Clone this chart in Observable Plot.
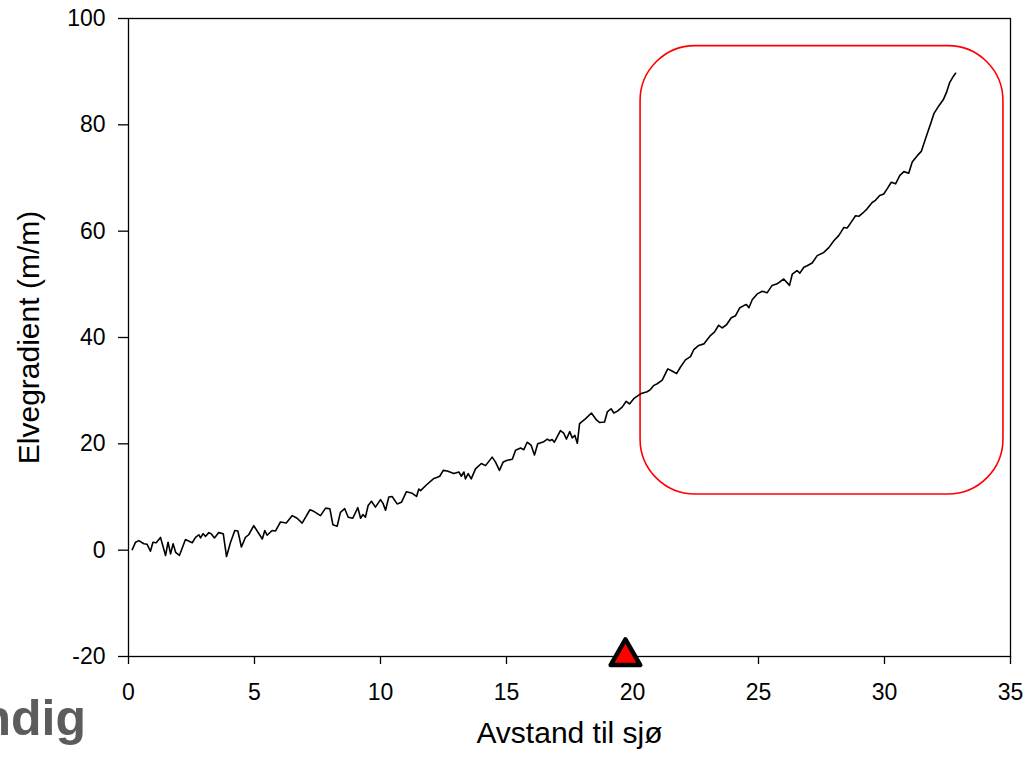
<!DOCTYPE html>
<html>
<head>
<meta charset="utf-8">
<script src="https://cdn.jsdelivr.net/npm/d3@7"></script>
<script src="https://cdn.jsdelivr.net/npm/@observablehq/plot@0.6"></script>
<style>
  body { margin: 0; background: white; }
  #chart { width: 1029px; height: 759px; overflow: hidden; }
</style>
</head>
<body>
<div id="chart"></div>
<script>
// Distance to sea (x) and river gradient (y)
const distance = [0.15,0.28,0.41,0.61,0.74,0.87,0.97,1.1,1.27,1.47,1.57,1.67,1.77,1.87,2.02,2.26,2.53,2.66,2.79,2.86,2.96,3.06,3.19,3.28,3.41,3.58,3.76,3.89,4.05,4.22,4.34,4.48,4.64,4.77,4.97,5.31,5.41,5.5,5.7,5.83,6.03,6.26,6.5,6.69,6.89,7.2,7.35,7.62,
7.82,7.99,8.11,8.28,8.41,8.58,8.72,8.9,9.1,9.21,9.3,9.4,9.51,9.64,9.8,10.0,10.1,10.2,10.33,10.46,10.66,10.83,11.03,11.26,11.43,11.52,11.59,11.83,12.12,12.25,12.35,12.49,12.65,12.91,13.11,13.21,13.31,13.37,13.48,13.6,13.77,
14.0,14.17,14.43,14.56,14.72,14.87,15.03,15.23,15.36,15.56,15.69,15.82,15.98,16.11,16.24,16.48,16.62,16.71,16.81,16.9,17.14,17.27,17.38,17.51,17.61,17.71,17.81,17.9,18.13,18.37,18.57,18.7,18.89,19.0,19.15,19.26,19.39,19.59,19.75,19.88,20.05,20.32,20.58,20.71,20.85,20.98,21.18,21.4,21.57,21.75,21.9,
22.1,22.3,22.43,22.63,22.83,23.1,23.25,23.42,23.56,23.73,23.92,24.09,24.26,24.42,24.52,24.62,24.75,24.95,25.15,25.34,25.54,25.74,26.0,26.23,26.34,26.53,26.64,26.8,26.93,27.13,27.33,
27.59,27.79,27.99,28.19,28.39,28.52,28.68,28.85,28.98,29.18,29.31,29.51,29.64,29.81,29.97,30.11,30.27,30.44,30.61,30.77,30.96,31.1,31.3,31.46,31.67,31.83,31.96,32.16,32.33,32.46,32.59,32.73,32.82];
const gradient = [0.1,1.5,1.8,1.2,1.1,-0.2,1.5,1.4,2.4,-1.0,1.5,-0.7,1.2,-0.4,-1.0,2.0,1.4,2.4,2.9,2.3,3.1,2.6,3.3,3.1,2.3,3.3,3.1,-1.2,1.5,3.7,3.6,0.6,2.4,2.9,4.6,2.1,3.7,2.8,3.7,3.6,5.3,5.1,6.5,6.0,5.1,7.6,7.3,6.5,
7.9,7.8,4.8,4.5,7.1,7.8,6.2,6.0,8.0,6.0,6.7,6.2,8.4,9.2,8.1,9.5,8.8,7.5,10.0,10.1,8.7,9.0,11.0,10.7,10.1,11.5,11.2,12.3,13.5,13.7,13.9,15.0,14.9,14.4,14.7,13.9,14.7,13.4,14.4,13.4,15.3,
16.3,15.9,17.5,16.6,15.0,16.6,16.9,17.1,18.8,19.2,18.9,20.3,19.7,17.9,20.0,20.4,20.9,20.6,20.8,20.3,22.5,22.0,20.9,22.3,21.1,21.6,20.1,23.8,24.7,25.8,24.5,24.0,24.1,26.0,26.6,25.8,26.1,26.9,28.0,27.5,28.5,29.4,29.8,30.2,31.0,31.3,32.0,34.1,33.7,33.2,34.4,
35.8,36.4,37.7,38.5,38.8,40.4,41.0,42.3,41.8,42.4,43.7,44.1,45.6,46.0,46.2,45.6,47.1,48.2,48.7,48.4,49.8,50.1,51.0,49.8,51.9,52.6,52.1,53.2,53.5,54.0,55.4,
56.0,56.9,58.2,59.2,60.7,60.6,61.7,62.9,62.8,63.6,64.2,65.4,65.8,66.7,67.0,68.0,69.2,68.9,70.5,71.2,70.9,73.0,74.2,75.0,78.0,80.2,82.1,83.6,84.7,86.1,88.0,89.1,89.7];

const xTicks = [0, 5, 10, 15, 20, 25, 30, 35];
const yTicks = [-20, 0, 20, 40, 60, 80, 100];
const xLabel = "Avstand til sjø";
const yLabel = "Elvegradient (m/m)";
const cutWord = "ndig";

// Highlight box (data units) and marker position
const boxX = [20.32, 34.72];
const boxY = [10.48, 94.8];
const markerX = [19.72];
const markerY = [-20];

const series = distance.map((d, i) => ({x: d, y: gradient[i]}));
const box = [{x1: boxX[0], x2: boxX[1], y1: boxY[0], y2: boxY[1]}];
const marker = markerX.map((x, i) => ({x, y: markerY[i]}));
const plain = d => String(d);

const chart = Plot.plot({
  width: 1029,
  height: 759,
  marginLeft: 128,
  marginRight: 19,
  marginTop: 18,
  marginBottom: 103,
  style: {fontFamily: "'Liberation Sans', Arial, sans-serif", background: "white", color: "black", overflow: "visible"},
  x: {domain: [0, 35]},
  y: {domain: [-20, 100]},
  marks: [
    Plot.frame({stroke: "black", strokeWidth: 1.3}),
    Plot.axisX({ticks: xTicks, tickFormat: plain, tickSize: 8, tickPadding: 19, fontSize: 23, label: null, strokeWidth: 1.3}),
    Plot.axisY({ticks: yTicks, tickFormat: plain, tickSize: 10, tickPadding: 13, fontSize: 23, label: null, strokeWidth: 1.3}),
    Plot.rect(box, {x1: "x1", x2: "x2", y1: "y1", y2: "y2", fill: "none", stroke: "#ff0000", strokeWidth: 1.6, rx: 55}),
    Plot.line(series, {x: "x", y: "y", stroke: "black", strokeWidth: 1.6}),
    Plot.dot(marker, {x: "x", y: "y", symbol: "triangle", r: 11, fill: "#ff0000", stroke: "black", strokeWidth: 4.5, strokeLinejoin: "round"}),
    Plot.text([xLabel], {frameAnchor: "bottom", textAnchor: "middle", lineAnchor: "bottom", dy: 86, fontSize: 30, fill: "black"}),
    Plot.text([yLabel], {frameAnchor: "left", textAnchor: "middle", lineAnchor: "middle", rotate: -90, dx: -99, fontSize: 30, fill: "black"}),
    Plot.text([cutWord], {frameAnchor: "bottom-left", textAnchor: "start", lineAnchor: "bottom", dx: -148, dy: 78, fontSize: 50, fontWeight: "bold", fill: "#5c5c5c"})
  ]
});
document.getElementById("chart").appendChild(chart);
</script>
</body>
</html>
